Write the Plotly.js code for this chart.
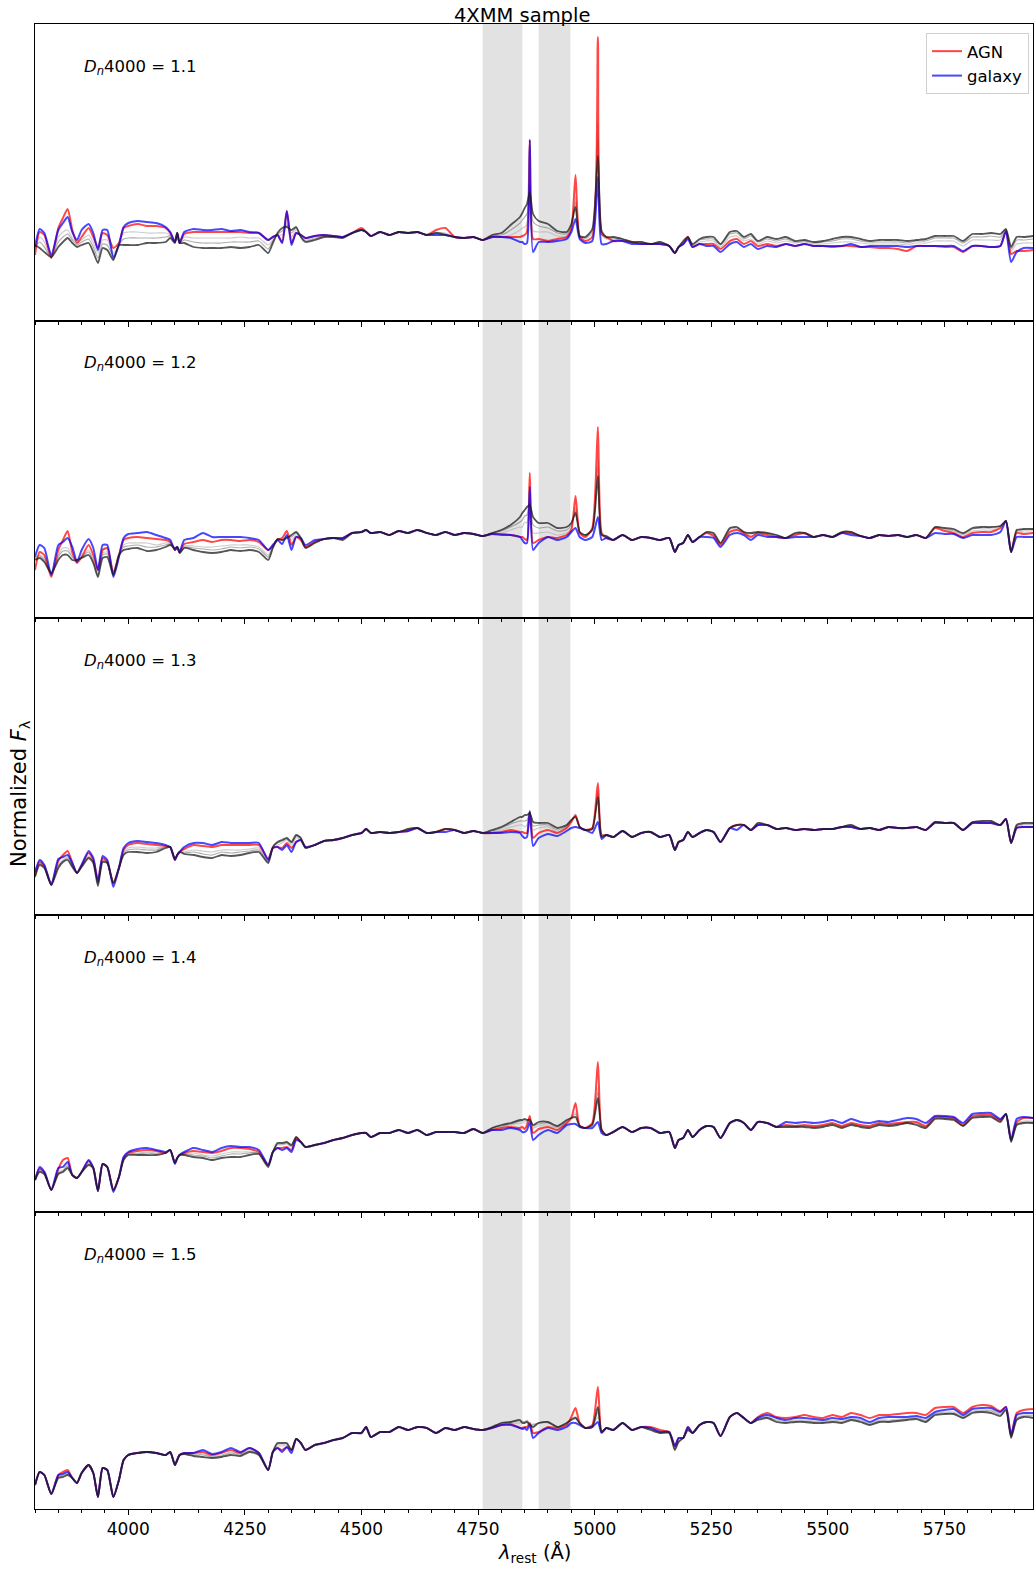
<!DOCTYPE html>
<html>
<head>
<meta charset="utf-8">
<script src="https://cdn.plot.ly/plotly-3.0.1.min.js"></script>
<style>html,body{margin:0;padding:0;background:#fff;}#chart{width:1034px;height:1569px;}</style>
</head>
<body>
<div id="chart"></div>
<script>
// Rest-frame wavelength grid (Angstrom)
const wavelength = [3800,3810,3820,3835,3850,3860,3870,3880,3890,3900,
 3915,3925,3935,3945,3955,3968,3980,3990,4000,4020,
 4040,4060,4080,4090,4100,4105,4110,4120,4140,4160,
 4180,4200,4220,4240,4260,4280,4300,4310,4320,4330,
 4340,4350,4360,4370,4380,4400,4420,4440,4460,4480,
 4500,4510,4520,4540,4560,4580,4600,4620,4640,4660,
 4680,4700,4720,4740,4760,4780,4800,4820,4840,4845,
 4850,4855,4861,4868,4880,4900,4920,4940,4950,4959,
 4968,4980,4995,5007,5015,5025,5040,5060,5080,5100,
 5120,5140,5160,5172,5180,5190,5200,5210,5225,5240,
 5255,5270,5290,5305,5320,5335,5350,5370,5390,5410,
 5430,5450,5470,5490,5510,5530,5550,5570,5590,5610,
 5630,5650,5670,5690,5710,5730,5750,5770,5790,5810,
 5830,5850,5870,5882,5893,5905,5920,5940];

const dn4000Labels = ['1.1','1.2','1.3','1.4','1.5'];
const excludedBands = [[4760,4845],[4880,4948]];
const tickValues = [4000,4250,4500,4750,5000,5250,5500,5750];

// ---- Dn4000 = 1.1 ----
const agn_11 = [66,89,86,63,93,103,112,91,78,84,
 93,84,73,88,86,73,78,93,95,97,
 95,95,93,88,79,88,78,87,89,89,
 89,89,89,89,88,88,81,84,86,79,
 110,78,88,86,83,85,86,85,84,88,
 93,89,85,89,86,89,88,89,86,91,
 93,84,83,84,81,84,84,84,84,85,
 86,89,181,82,82,80,82,84,92,146,
 84,80,84,284,87,84,80,80,79,77,
 77,77,75,68,74,77,84,74,77,77,
 77,72,80,82,77,80,75,77,75,77,
 75,77,75,75,74,75,75,74,74,73,
 73,72,70,75,75,75,74,74,69,75,
 75,74,75,90,67,70,70,71];
const galaxy_11 = [74,92,88,66,91,98,104,89,81,91,
 97,88,71,91,91,63,76,94,98,100,
 99,98,94,89,79,88,78,89,92,91,
 91,92,90,91,89,88,81,84,86,78,
 110,76,88,86,83,85,86,85,84,88,
 91,89,85,89,86,89,88,89,86,86,
 86,84,83,84,81,84,84,83,79,79,
 77,78,181,69,79,79,80,82,89,102,
 82,78,80,144,77,77,80,80,77,77,
 77,77,75,68,74,77,82,74,77,75,
 75,69,77,79,74,77,72,75,74,77,
 75,77,75,75,75,75,77,74,75,75,
 75,75,74,75,75,75,75,75,70,75,
 75,74,75,90,59,69,73,73];
const grayDark_11 = [76,73,69,64,74,79,83,78,74,76,
 78,69,58,73,71,61,76,76,76,76,
 78,78,79,83,78,88,78,78,74,73,
 73,73,74,73,74,76,68,78,88,93,
 94,91,94,84,79,81,84,84,83,88,
 91,89,85,89,86,89,88,89,86,88,
 86,84,83,84,81,86,88,96,104,108,
 113,117,129,107,100,97,90,89,97,114,
 85,84,92,165,90,84,84,82,79,79,
 77,79,75,68,74,80,84,77,82,84,
 84,77,89,90,84,87,80,84,82,84,
 80,81,79,80,82,84,84,82,80,81,
 81,81,80,81,82,85,85,85,80,87,
 87,88,87,92,74,84,84,85];
const grayMid_11 = [74,79,74,64,79,84,87,81,76,79,
 82,74,63,77,76,65,76,82,83,83,
 83,83,84,85,79,88,78,81,79,78,
 78,78,79,79,79,80,72,80,87,90,
 96,88,93,85,80,82,85,85,84,88,
 91,89,85,89,86,89,88,89,86,88,
 87,84,83,84,81,85,86,91,98,101,
 104,107,136,99,95,93,88,87,96,119,
 85,83,90,182,89,83,83,82,79,79,
 77,79,75,68,74,79,84,76,81,82,
 82,76,87,88,82,85,79,82,80,82,
 79,80,78,79,80,82,82,80,79,79,
 79,79,78,80,80,83,83,83,78,84,
 84,85,84,92,72,81,81,82];
const grayLight_11 = [72,84,79,64,84,89,91,83,78,81,
 86,78,68,81,81,68,76,88,89,89,
 88,88,88,86,79,88,78,84,83,83,
 83,83,83,84,83,83,76,81,86,86,
 98,84,91,85,81,83,85,85,84,88,
 91,89,85,89,86,89,88,89,86,88,
 88,84,83,84,81,84,84,86,91,93,
 94,97,142,90,89,89,85,85,94,124,
 84,82,88,200,87,82,82,81,78,78,
 77,78,75,68,74,78,84,75,79,80,
 80,74,84,85,80,82,77,80,78,80,
 78,79,77,77,78,79,79,78,77,77,
 77,77,76,78,78,80,80,80,75,81,
 81,81,81,91,70,77,78,78];

// ---- Dn4000 = 1.2 ----
const agn_12 = [48,66,63,41,68,78,87,66,55,61,
 73,63,48,68,70,45,63,78,80,81,
 80,79,78,76,68,71,66,74,76,78,
 76,78,78,77,78,76,68,72,78,80,
 87,73,81,78,71,76,79,80,80,85,
 86,88,85,86,83,87,85,88,85,83,
 86,83,85,84,82,84,84,83,81,81,
 79,78,145,75,78,81,80,83,88,122,
 85,81,90,191,85,80,78,83,78,81,
 80,78,80,66,73,75,83,76,81,85,
 82,73,86,88,85,81,85,83,81,80,
 83,85,81,83,81,85,85,82,80,83,
 82,83,81,83,80,90,87,85,81,85,
 86,86,90,97,66,85,84,85];
const galaxy_12 = [61,73,70,43,73,76,80,71,56,68,
 79,70,48,73,73,41,61,80,84,85,
 86,83,80,78,68,71,66,78,80,85,
 81,81,81,81,80,78,68,73,78,74,
 83,68,81,80,73,78,79,80,80,85,
 86,88,85,86,83,87,85,88,85,83,
 86,83,85,84,82,84,83,83,81,78,
 75,75,131,68,75,81,78,81,86,90,
 81,78,81,101,78,80,78,83,78,81,
 80,78,80,66,73,75,83,76,81,81,
 80,71,83,85,83,78,83,81,81,80,
 81,81,81,83,81,85,83,82,80,83,
 82,83,81,83,80,85,84,84,80,83,
 83,83,86,97,66,81,81,81];
const grayDark_12 = [58,60,56,45,58,63,63,58,58,60,
 63,55,41,60,61,43,63,68,69,70,
 67,68,71,73,70,71,65,70,68,66,
 65,66,68,67,68,66,58,70,79,78,
 80,83,86,80,70,75,79,80,78,85,
 86,88,85,86,83,87,85,88,85,83,
 86,83,85,84,82,85,88,93,101,105,
 108,111,113,101,95,95,90,91,95,105,
 86,83,88,142,83,82,78,83,78,81,
 80,78,80,66,73,75,83,76,81,86,
 85,75,90,91,86,85,86,85,83,80,
 85,85,81,83,81,86,86,82,80,83,
 82,83,81,83,80,91,90,89,85,90,
 91,91,92,97,66,88,89,89];
const grayMid_12 = [59,62,58,44,61,67,67,61,57,61,
 66,57,43,63,64,43,63,71,72,73,
 71,71,73,74,69,71,65,71,70,69,
 68,69,71,70,71,69,61,71,79,78,
 81,81,85,80,71,76,79,80,79,85,
 86,88,85,86,83,87,85,88,85,83,
 86,83,85,84,82,85,87,91,96,98,
 102,103,117,93,90,91,87,88,93,108,
 86,83,89,152,83,82,78,83,78,81,
 80,78,80,66,73,75,83,76,81,86,
 84,75,89,90,86,84,86,85,83,80,
 85,85,81,83,81,86,86,82,80,83,
 82,83,81,83,80,91,89,88,84,89,
 90,90,92,97,66,87,88,88];
const grayLight_12 = [60,63,60,43,63,70,70,63,56,61,
 68,58,45,65,66,43,63,73,75,75,
 75,73,75,75,68,71,65,72,72,71,
 71,72,73,73,73,71,63,71,78,78,
 82,78,83,79,71,76,79,80,79,85,
 86,88,85,86,83,87,85,88,85,83,
 86,83,85,84,82,84,85,88,91,91,
 96,95,121,85,85,86,83,85,90,111,
 85,82,89,161,83,81,78,83,78,81,
 80,78,80,66,73,75,83,76,81,85,
 83,74,87,89,85,82,85,84,82,80,
 84,84,81,83,81,85,85,82,80,83,
 82,83,81,83,80,90,88,87,83,87,
 88,88,91,97,66,86,86,86];

// ---- Dn4000 = 1.3 ----
const agn_13 = [40,53,49,31,54,60,64,52,42,50,
 62,55,35,57,53,32,47,65,70,72,
 71,70,69,68,55,60,63,66,70,69,
 68,70,70,70,70,70,56,67,68,67,
 72,67,73,75,68,70,74,75,77,80,
 82,86,82,83,82,83,84,87,82,83,
 86,85,82,84,82,82,83,85,83,83,
 82,82,103,77,82,85,82,87,93,100,
 88,85,87,132,80,80,78,84,78,82,
 83,78,80,65,73,75,83,78,82,85,
 83,73,87,90,90,85,90,90,86,87,
 85,86,85,86,86,88,88,86,87,85,
 88,87,87,88,85,93,92,92,85,92,
 92,92,90,96,72,87,88,88];
const galaxy_13 = [43,55,50,30,56,58,60,52,42,50,
 64,57,33,59,55,28,47,67,72,74,
 73,72,70,68,55,60,63,68,72,72,
 70,73,72,72,72,72,55,67,68,65,
 70,63,73,75,68,70,74,75,77,80,
 82,86,82,83,82,83,84,87,82,83,
 83,85,82,84,82,82,82,83,82,79,
 77,78,104,69,77,81,79,84,87,88,
 87,85,82,93,76,80,78,84,78,82,
 83,78,80,65,73,75,83,78,82,85,
 83,73,87,85,90,85,90,90,86,87,
 85,86,85,86,86,88,88,86,87,85,
 88,87,87,88,85,93,92,92,85,92,
 92,92,90,96,72,87,88,88];
const grayDark_13 = [38,50,47,30,47,53,55,48,42,48,
 57,52,29,53,52,32,47,60,63,63,
 62,63,67,68,56,60,63,61,60,58,
 57,60,59,60,62,63,52,68,73,75,
 77,73,80,77,67,70,74,75,77,80,
 82,86,82,83,82,83,86,87,82,83,
 86,85,82,84,82,85,88,93,98,98,
 100,100,102,93,92,92,87,90,95,98,
 88,85,86,118,78,80,78,84,78,82,
 83,78,80,65,73,75,83,78,82,85,
 83,73,87,90,90,85,92,90,86,87,
 85,86,85,86,86,88,90,86,87,85,
 88,87,87,88,85,92,92,92,85,93,
 94,94,90,96,72,90,92,92];
const grayMid_13 = [39,51,48,30,49,54,57,49,42,49,
 58,53,31,54,53,31,47,61,65,66,
 65,65,68,68,56,60,63,62,63,61,
 60,63,62,63,64,65,53,68,72,74,
 76,72,79,77,67,70,74,75,77,80,
 82,86,82,83,82,83,86,87,82,83,
 86,85,82,84,82,84,87,91,94,94,
 94,95,102,89,90,90,85,89,95,99,
 88,85,86,122,79,80,78,84,78,82,
 83,78,80,65,73,75,83,78,82,85,
 83,73,87,90,90,85,92,90,86,87,
 85,86,85,86,86,88,90,86,87,85,
 88,87,87,88,85,92,92,92,85,93,
 94,94,90,96,72,89,91,91];
const grayLight_13 = [39,52,48,30,50,55,58,50,42,49,
 59,53,32,55,53,30,47,62,67,68,
 67,67,68,68,55,60,63,63,65,64,
 63,65,65,65,66,67,53,67,70,72,
 75,70,77,76,67,70,74,75,77,80,
 82,86,82,83,82,83,85,87,82,83,
 86,85,82,84,82,83,85,88,90,90,
 88,90,102,85,87,88,83,88,94,99,
 88,85,86,125,79,80,78,84,78,82,
 83,78,80,65,73,75,83,78,82,85,
 83,73,87,90,90,85,91,90,86,87,
 85,86,85,86,86,88,89,86,87,85,
 88,87,87,88,85,92,92,92,85,92,
 93,93,90,96,72,88,90,90];

// ---- Dn4000 = 1.4 ----
const agn_14 = [32,43,40,22,43,52,54,37,34,40,
 51,44,21,48,45,22,35,54,59,61,
 62,61,59,62,49,54,57,59,61,60,
 59,61,64,64,63,60,47,60,64,64,
 65,62,74,70,65,67,69,72,74,77,
 79,79,75,79,79,82,79,82,77,80,
 80,80,79,83,79,82,84,85,84,85,
 83,87,96,79,83,85,82,89,94,109,
 86,84,89,150,82,77,80,85,80,84,
 84,79,80,64,72,74,82,75,82,86,
 85,74,89,92,89,82,90,89,85,87,
 86,87,86,87,89,86,89,87,86,89,
 88,89,90,90,86,95,95,94,87,96,
 97,97,92,98,72,90,94,94];
const galaxy_14 = [32,45,40,22,44,45,50,37,34,40,
 52,44,21,48,45,20,35,55,60,63,
 64,62,60,62,48,54,57,60,64,62,
 60,64,66,65,65,62,47,60,64,62,
 64,60,72,70,65,67,69,72,74,77,
 79,79,75,79,79,82,79,82,77,80,
 80,80,79,83,79,82,82,84,82,80,
 80,82,90,72,77,82,79,87,88,88,
 85,84,84,90,79,77,80,85,80,84,
 84,79,80,64,72,74,82,75,82,86,
 85,74,89,92,89,82,90,89,85,90,
 89,90,89,90,92,89,93,90,89,91,
 90,92,94,93,89,96,96,95,89,98,
 99,99,93,98,72,93,95,94];
const grayDark_14 = [32,40,38,22,38,40,44,37,34,40,
 47,44,21,48,45,22,35,52,57,57,
 57,57,59,62,49,54,57,57,55,54,
 52,54,55,55,57,58,45,60,69,69,
 70,67,75,70,65,67,69,72,74,77,
 79,79,75,79,79,82,79,82,77,80,
 80,80,79,83,79,84,87,89,92,92,
 93,92,92,87,90,90,86,92,94,95,
 86,84,87,114,82,77,80,85,80,84,
 84,79,80,64,72,74,82,75,82,86,
 85,74,89,92,89,82,90,89,85,85,
 85,85,84,85,87,84,87,85,84,87,
 86,87,89,87,84,93,93,92,86,94,
 95,95,90,98,70,87,89,89];
const grayMid_14 = [32,41,39,22,39,41,46,37,34,40,
 48,44,21,48,45,22,35,53,58,58,
 59,58,59,62,49,54,57,58,57,56,
 54,56,58,58,59,59,46,60,68,68,
 69,66,75,70,65,67,69,72,74,77,
 79,79,75,79,79,82,79,82,77,80,
 80,80,79,83,79,84,86,88,91,91,
 91,91,93,86,88,89,85,91,94,98,
 86,84,88,120,82,77,80,85,80,84,
 84,79,80,64,72,74,82,75,82,86,
 85,74,89,92,89,82,90,89,85,86,
 86,86,85,86,88,85,88,86,85,88,
 87,88,89,88,85,94,94,93,86,95,
 96,96,91,98,71,88,90,90];
const grayLight_14 = [32,42,39,22,40,42,47,37,34,40,
 49,44,21,48,45,21,35,53,59,59,
 60,59,59,62,49,54,57,58,59,57,
 56,58,60,60,60,59,46,60,67,67,
 68,65,74,70,65,67,69,72,74,77,
 79,79,75,79,79,82,79,82,77,80,
 80,80,79,83,79,83,85,87,89,89,
 89,89,94,84,86,87,84,90,94,100,
 86,84,88,125,82,77,80,85,80,84,
 84,79,80,64,72,74,82,75,82,86,
 85,74,89,92,89,82,90,89,85,86,
 86,86,85,86,88,85,88,86,85,88,
 87,88,89,89,85,94,94,93,86,95,
 96,96,91,98,71,89,91,91];

// ---- Dn4000 = 1.5 ----
const agn_15 = [24,37,34,15,34,37,39,31,26,36,
 44,36,12,41,39,12,29,49,54,56,
 57,56,54,57,44,49,54,56,56,57,
 54,56,59,56,61,56,39,57,61,59,
 62,59,70,66,59,64,66,69,71,76,
 76,82,72,77,77,82,79,82,81,76,
 81,79,82,80,79,81,84,85,81,81,
 82,82,86,76,77,82,81,84,92,101,
 86,81,84,122,77,81,79,86,79,82,
 82,79,77,63,71,71,82,76,84,87,
 86,73,92,96,91,86,92,96,92,91,
 92,94,92,91,94,92,96,94,91,94,
 94,95,96,96,94,101,102,102,96,102,
 104,103,98,102,74,96,99,100];
const galaxy_15 = [24,37,34,15,34,35,37,31,26,36,
 44,36,12,41,39,12,29,49,54,56,
 57,56,54,57,44,49,54,56,56,59,
 55,57,61,57,61,56,39,57,61,57,
 62,56,70,66,59,64,66,69,71,76,
 76,82,72,77,77,82,79,82,81,76,
 81,79,82,80,79,81,84,84,81,80,
 81,79,84,71,76,81,79,82,86,86,
 84,81,82,87,76,81,79,86,79,82,
 81,77,77,63,71,71,82,76,84,87,
 86,73,92,96,91,86,91,94,91,89,
 91,91,90,89,91,90,92,91,87,91,
 92,92,92,93,91,97,99,100,94,100,
 101,101,97,102,74,94,96,96];
const grayDark_15 = [24,37,34,15,31,32,34,31,26,36,
 44,36,12,41,39,12,29,49,54,56,
 57,56,54,57,44,49,54,55,53,52,
 51,52,54,53,57,54,39,57,66,66,
 66,59,70,66,59,64,66,69,71,76,
 76,82,72,77,77,82,79,82,81,76,
 81,79,82,80,79,82,86,87,89,86,
 86,87,84,82,86,87,82,86,89,91,
 86,81,82,102,77,81,79,86,79,82,
 79,76,76,59,67,71,79,76,84,87,
 86,73,92,96,91,86,89,91,87,86,
 87,87,86,86,87,86,89,87,84,87,
 87,88,89,90,87,94,95,95,91,96,
 97,96,93,99,71,89,92,91];
const grayMid_15 = [24,37,34,15,32,33,35,31,26,36,
 44,36,12,41,39,12,29,49,54,56,
 57,56,54,57,44,49,54,55,54,54,
 52,53,56,54,58,55,39,57,65,65,
 65,59,70,66,59,64,66,69,71,76,
 76,82,72,77,77,82,79,82,81,76,
 81,79,82,80,79,82,86,87,88,87,
 87,88,85,84,86,87,82,86,90,92,
 86,81,83,97,77,81,79,86,79,82,
 80,77,77,60,68,71,80,76,84,87,
 86,73,92,96,91,86,90,92,88,87,
 88,88,87,87,88,87,90,88,85,88,
 88,89,90,91,88,95,96,96,92,97,
 98,98,94,100,72,90,93,93];
const grayLight_15 = [24,37,34,15,33,34,36,31,26,36,
 44,36,12,41,39,12,29,49,54,56,
 57,56,54,57,44,49,54,55,55,55,
 53,54,57,55,59,55,39,57,63,63,
 64,59,70,66,59,64,66,69,71,76,
 76,82,72,77,77,82,79,82,81,76,
 81,79,82,80,79,81,85,86,86,88,
 87,89,85,85,86,86,82,85,90,92,
 86,81,83,92,77,81,79,86,79,82,
 80,78,77,61,69,71,80,76,84,87,
 86,73,92,96,91,86,90,92,89,88,
 89,89,88,88,89,88,91,89,86,89,
 89,90,91,92,89,96,97,97,93,98,
 99,99,95,100,72,91,94,94];

const panels = [
  {label: dn4000Labels[0], agn: agn_11, gal: galaxy_11, dark: grayDark_11, mid: grayMid_11, light: grayLight_11},
  {label: dn4000Labels[1], agn: agn_12, gal: galaxy_12, dark: grayDark_12, mid: grayMid_12, light: grayLight_12},
  {label: dn4000Labels[2], agn: agn_13, gal: galaxy_13, dark: grayDark_13, mid: grayMid_13, light: grayLight_13},
  {label: dn4000Labels[3], agn: agn_14, gal: galaxy_14, dark: grayDark_14, mid: grayMid_14, light: grayLight_14},
  {label: dn4000Labels[4], agn: agn_15, gal: galaxy_15, dark: grayDark_15, mid: grayMid_15, light: grayLight_15}
];

const FONT = 'DejaVu Sans, Liberation Sans, sans-serif';
const traces = [];
const layout = {
  width: 1034, height: 1569,
  margin: {l: 35, r: 1, t: 24, b: 60, pad: 0},
  paper_bgcolor: '#fff', plot_bgcolor: 'rgba(0,0,0,0)',
  font: {family: FONT, size: 16, color: '#000'},
  title: {text: '4XMM sample', x: 0.505, xref: 'container', xanchor: 'center',
          y: 1 - 15/1569, yref: 'container', yanchor: 'middle', font: {size: 19.5, family: FONT}},
  showlegend: true,
  legend: {x: 0.996, xanchor: 'right', y: 0.994, yanchor: 'top', bgcolor: 'rgba(255,255,255,0.9)',
           bordercolor: '#d0d0d0', borderwidth: 1, font: {size: 16.5, family: FONT}, itemwidth: 30, tracegroupgap: 0},
  shapes: [], annotations: []
};

const SPL = {shape: 'spline', smoothing: 0.6};
const n = panels.length;
panels.forEach((p, i) => {
  const k = i + 1;
  const xa = 'x' + (k === 1 ? '' : k), ya = 'y' + (k === 1 ? '' : k);
  const common = {type: 'scatter', mode: 'lines', x: wavelength, xaxis: xa, yaxis: ya, hoverinfo: 'skip'};
  traces.push(Object.assign({}, common, {y: p.light, showlegend: false, line: Object.assign({color: 'rgba(170,170,170,0.6)', width: 1.2}, SPL)}));
  traces.push(Object.assign({}, common, {y: p.mid, showlegend: false, line: Object.assign({color: 'rgba(120,120,120,0.6)', width: 1.2}, SPL)}));
  traces.push(Object.assign({}, common, {y: p.agn, name: 'AGN', showlegend: k === 1, line: Object.assign({color: 'rgba(255,0,0,0.72)', width: 2}, SPL)}));
  traces.push(Object.assign({}, common, {y: p.gal, name: 'galaxy', showlegend: k === 1, line: Object.assign({color: 'rgba(0,0,255,0.72)', width: 2}, SPL)}));
  traces.push(Object.assign({}, common, {y: p.dark, showlegend: false, line: Object.assign({color: 'rgba(30,30,30,0.75)', width: 1.8}, SPL)}));

  const top = 1 - i / n, bot = 1 - (i + 1) / n;
  layout['xaxis' + (k === 1 ? '' : k)] = {
    anchor: ya, domain: [0, 1], range: [3800, 5940], matches: k === 1 ? undefined : 'x',
    showgrid: false, zeroline: false, showline: true, mirror: true, linecolor: '#000', linewidth: 1,
    ticks: 'outside', ticklen: 5, tickwidth: 1, tickcolor: '#000',
    tickmode: 'array', tickvals: tickValues, ticktext: tickValues.map(String),
    showticklabels: k === n, tickfont: {size: 17, family: FONT},
    minor: {dtick: 50, tick0: 4000, ticks: 'outside', ticklen: 3, tickwidth: 1, tickcolor: '#000', showgrid: false}
  };
  layout['yaxis' + (k === 1 ? '' : k)] = {
    anchor: xa, domain: [bot, top], range: [0, 297], showgrid: false, zeroline: false,
    showline: true, mirror: true, linecolor: '#000', linewidth: 1, ticks: '', showticklabels: false
  };
  layout.annotations.push({
    xref: 'paper', yref: 'paper', x: 47/998, y: top - 43/1485, xanchor: 'left', yanchor: 'middle',
    text: '<i>D</i><sub><i>n</i></sub>4000 = ' + p.label, showarrow: false, font: {size: 16.5, family: FONT}
  });
});

excludedBands.forEach(b => {
  layout.shapes.push({type: 'rect', xref: 'x', yref: 'paper', x0: b[0], x1: b[1], y0: 0, y1: 1,
    fillcolor: '#e2e2e2', line: {width: 0}, layer: 'below'});
});

layout.annotations.push({xref: 'paper', yref: 'paper', x: -15/998, y: 1 - (794-24)/1485, textangle: -90,
  text: 'Normalized <i>F</i><sub>λ</sub>', showarrow: false, font: {size: 21, family: FONT}, xanchor: 'center', yanchor: 'middle'});
layout.annotations.push({xref: 'paper', yref: 'paper', x: 0.5, y: -44/1485,
  text: '<i>λ</i><sub>rest</sub> (Å)', showarrow: false, font: {size: 19.5, family: FONT}, xanchor: 'center', yanchor: 'middle'});

Plotly.newPlot('chart', traces, layout, {staticPlot: true, displayModeBar: false});
</script>
</body>
</html>
